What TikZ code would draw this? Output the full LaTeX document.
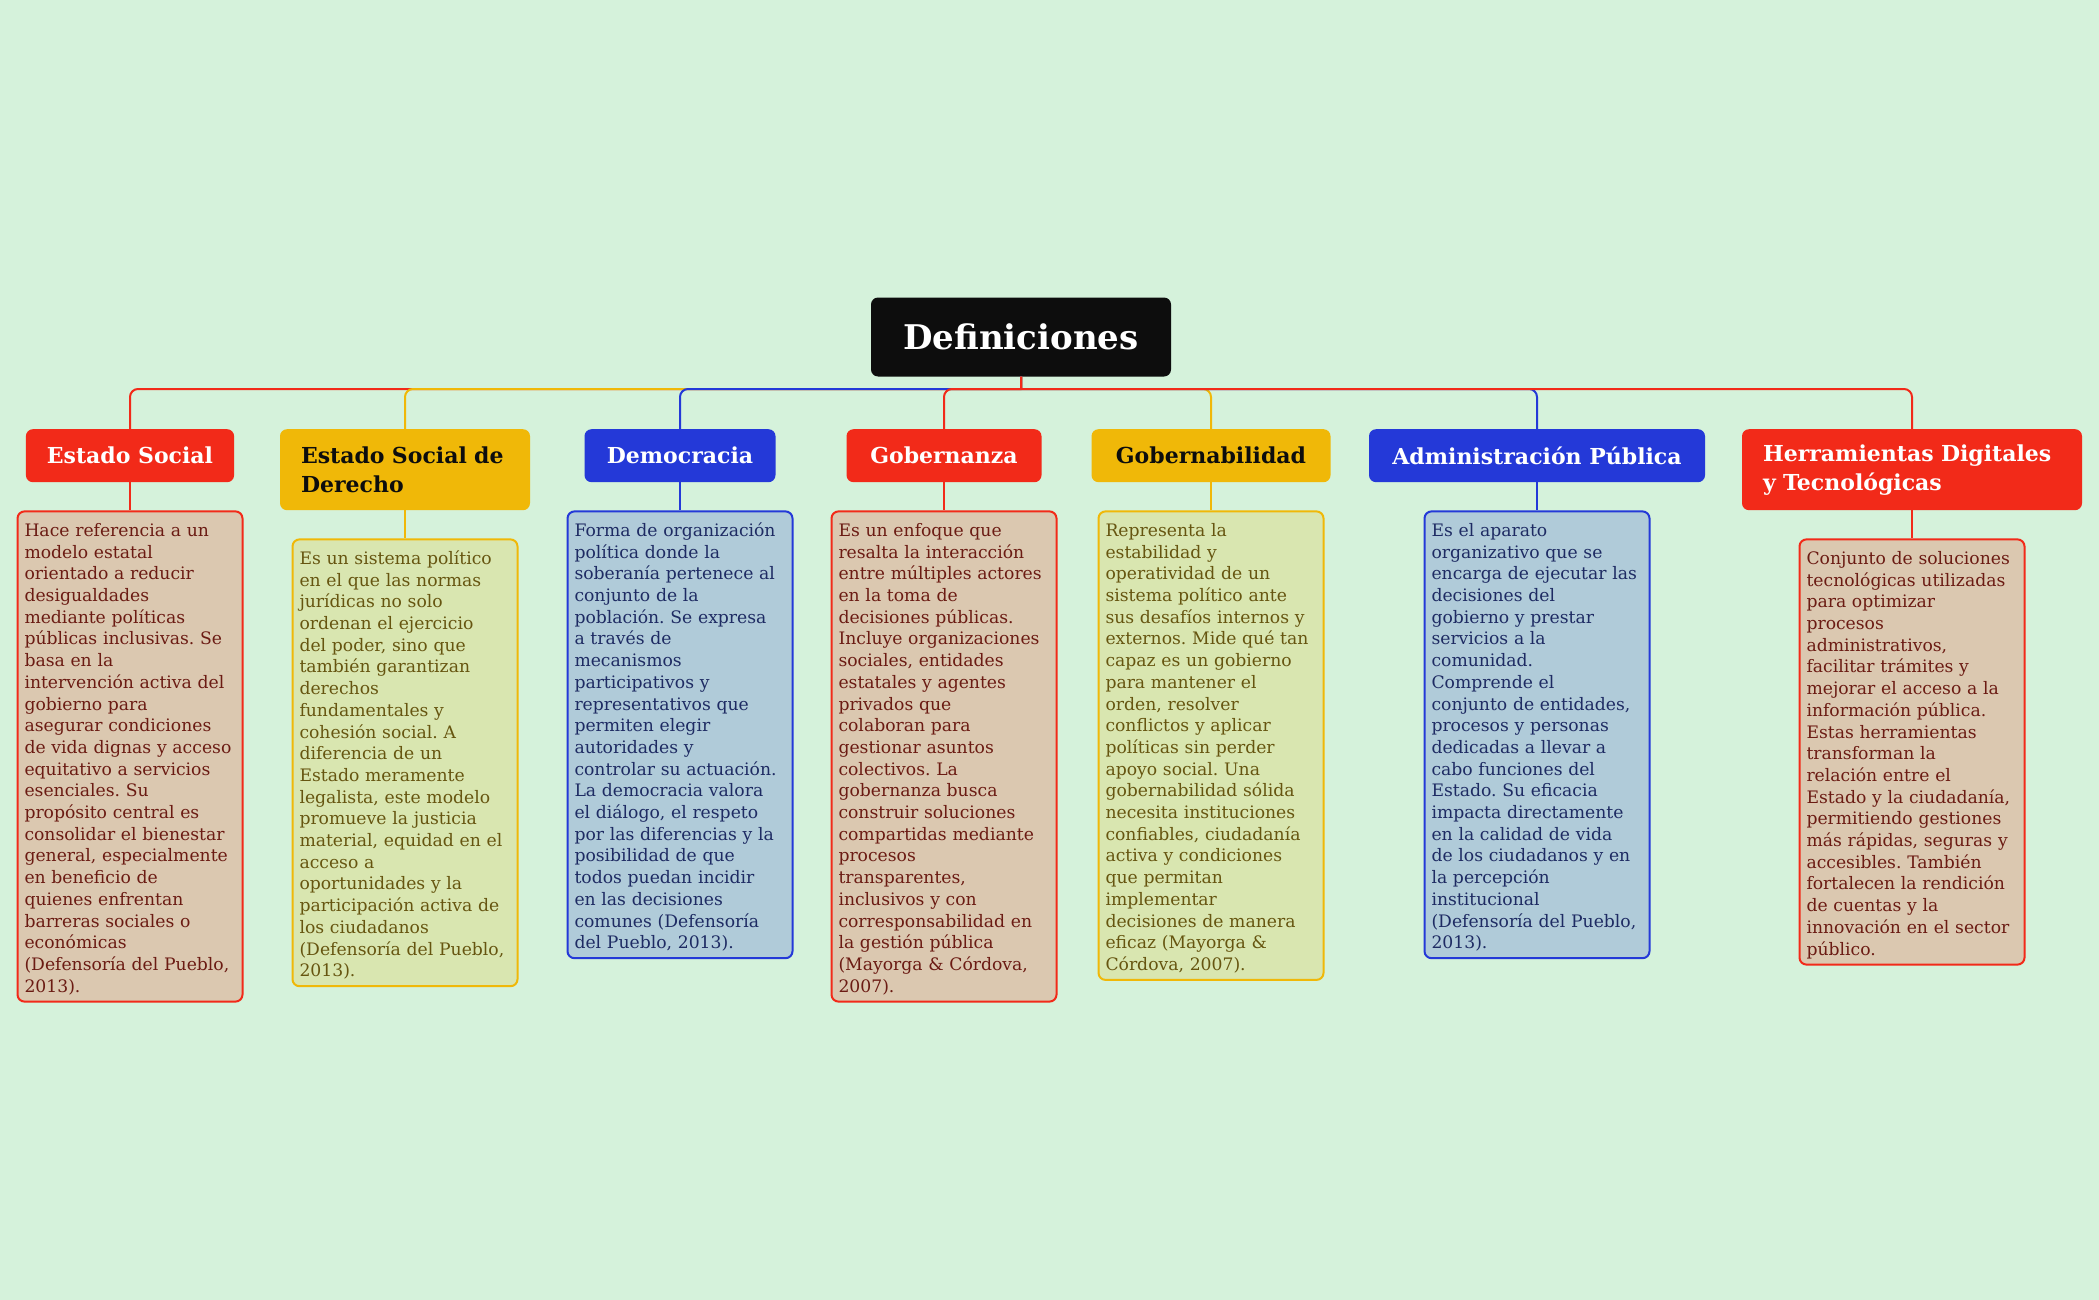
\documentclass[tikz,border=0pt]{standalone}
\usepackage{fontspec}
\setmainfont{DejaVu Serif}
\usetikzlibrary{positioning}
\frenchspacing

\definecolor{fondo}{HTML}{D5F2DB}
\definecolor{negro}{HTML}{0D0D0D}
\definecolor{rojo}{HTML}{F22A19}
\definecolor{amarillo}{HTML}{F0B808}
\definecolor{azul}{HTML}{2439D8}
\definecolor{rojoclaro}{HTML}{DBC8B0}
\definecolor{amarilloclaro}{HTML}{D9E6B0}
\definecolor{azulclaro}{HTML}{B0CBD9}
\definecolor{rojotexto}{HTML}{6B1B13}
\definecolor{amarillotexto}{HTML}{665510}
\definecolor{azultexto}{HTML}{1E2B63}

\begin{document}
\begin{tikzpicture}[x=1pt,y=-1pt,
        central/.style={fill=negro, text=white, rounded corners=7pt, minimum width=300pt,
            minimum height=79pt, font=\bfseries\fontsize{34}{40}\selectfont},
        rama/.style={rounded corners=7pt, anchor=north, inner xsep=21pt, inner ysep=0pt,
            minimum height=53pt, align=center, font=\bfseries\fontsize{22}{29}\selectfont},
        rama doble/.style={rama, minimum height=81pt, align=left},
        texto/.style={draw, line width=2pt, rounded corners=7pt, text width=211pt,
            inner xsep=7pt, inner ysep=6pt, align=left, below=28pt of #1,
            font=\fontsize{17.2}{21.7}\selectfont,
            execute at begin node={\rule{0pt}{19pt}},
            execute at end node={\rule[-3.5pt]{0pt}{0pt}}},
        conector/.style={line width=2pt}]
        \useasboundingbox (0,0) rectangle (2099,1300);
        \fill[fondo] (0,0) rectangle (2099,1300);

        \node[central] (raiz) at (1021,337) {Definiciones};
        \coordinate (bus) at (1021,389);

        \node[rama, fill=rojo, text=white, minimum width=206pt] (es) at (130,429) {Estado Social};
        \node[rama doble, fill=amarillo, text=negro, text width=208pt] (esd) at (405,429) {Estado Social de\\Derecho};
        \node[rama, fill=azul, text=white, minimum width=191pt] (dem) at (680,429) {Democracia};
        \node[rama, fill=rojo, text=white, minimum width=195pt] (gza) at (944,429) {Gobernanza};
        \node[rama, fill=amarillo, text=negro, minimum width=239pt] (gbd) at (1211,429) {Gobernabilidad};
        \node[rama, fill=azul, text=white, minimum width=336pt] (adm) at (1537,429) {Administración Pública};
        \node[rama doble, fill=rojo, text=white, text width=298pt] (her) at (1912,429) {Herramientas Digitales\\y Tecnológicas};

        \node[texto=es, draw=rojo, fill=rojoclaro, text=rojotexto] (es-t) {Hace referencia a un\\
            modelo estatal\\orientado a reducir\\desigualdades\\mediante políticas\\
            públicas inclusivas. Se\\basa en la\\intervención activa del\\gobierno para\\
            asegurar condiciones\\de vida dignas y acceso\\equitativo a servicios\\
            esenciales. Su\\propósito central es\\consolidar el bienestar\\
            general, especialmente\\en beneficio de\\quienes enfrentan\\
            barreras sociales o\\económicas\\(Defensoría del Pueblo,\\2013).};
        \node[texto=esd, draw=amarillo, fill=amarilloclaro, text=amarillotexto] (esd-t) {Es un sistema político\\
            en el que las normas\\jurídicas no solo\\ordenan el ejercicio\\del poder, sino que\\
            también garantizan\\derechos\\fundamentales y\\cohesión social. A\\
            diferencia de un\\Estado meramente\\legalista, este modelo\\promueve la justicia\\
            material, equidad en el\\acceso a\\oportunidades y la\\participación activa de\\
            los ciudadanos\\(Defensoría del Pueblo,\\2013).};
        \node[texto=dem, draw=azul, fill=azulclaro, text=azultexto] (dem-t) {Forma de organización\\
            política donde la\\soberanía pertenece al\\conjunto de la\\población. Se expresa\\
            a través de\\mecanismos\\participativos y\\representativos que\\permiten elegir\\
            autoridades y\\controlar su actuación.\\La democracia valora\\el diálogo, el respeto\\
            por las diferencias y la\\posibilidad de que\\todos puedan incidir\\
            en las decisiones\\comunes (Defensoría\\del Pueblo, 2013).};
        \node[texto=gza, draw=rojo, fill=rojoclaro, text=rojotexto] (gza-t) {Es un enfoque que\\
            resalta la interacción\\entre múltiples actores\\en la toma de\\decisiones públicas.\\
            Incluye organizaciones\\sociales, entidades\\estatales y agentes\\privados que\\
            colaboran para\\gestionar asuntos\\colectivos. La\\gobernanza busca\\
            construir soluciones\\compartidas mediante\\procesos\\transparentes,\\
            inclusivos y con\\corresponsabilidad en\\la gestión pública\\
            (Mayorga \& Córdova,\\2007).};
        \node[texto=gbd, draw=amarillo, fill=amarilloclaro, text=amarillotexto] (gbd-t) {Representa la\\
            estabilidad y\\operatividad de un\\sistema político ante\\sus desafíos internos y\\
            externos. Mide qué tan\\capaz es un gobierno\\para mantener el\\orden, resolver\\
            conflictos y aplicar\\políticas sin perder\\apoyo social. Una\\
            gobernabilidad sólida\\necesita instituciones\\confiables, ciudadanía\\
            activa y condiciones\\que permitan\\implementar\\decisiones de manera\\
            eficaz (Mayorga \&\\Córdova, 2007).};
        \node[texto=adm, draw=azul, fill=azulclaro, text=azultexto] (adm-t) {Es el aparato\\
            organizativo que se\\encarga de ejecutar las\\decisiones del\\gobierno y prestar\\
            servicios a la\\comunidad.\\Comprende el\\conjunto de entidades,\\
            procesos y personas\\dedicadas a llevar a\\cabo funciones del\\Estado. Su eficacia\\
            impacta directamente\\en la calidad de vida\\de los ciudadanos y en\\la percepción\\
            institucional\\(Defensoría del Pueblo,\\2013).};
        \node[texto=her, draw=rojo, fill=rojoclaro, text=rojotexto] (her-t) {Conjunto de soluciones\\
            tecnológicas utilizadas\\para optimizar\\procesos\\administrativos,\\
            facilitar trámites y\\mejorar el acceso a la\\información pública.\\
            Estas herramientas\\transforman la\\relación entre el\\Estado y la ciudadanía,\\
            permitiendo gestiones\\más rápidas, seguras y\\accesibles. También\\
            fortalecen la rendición\\de cuentas y la\\innovación en el sector\\público.};

        \foreach \r/\c in {es/rojo, esd/amarillo, dem/azul, gza/rojo, gbd/amarillo, adm/azul, her/rojo} {
            \draw[conector, \c] (raiz.south) -- (bus) (bus) [rounded corners=8pt] -| (\r.north);
            \draw[conector, \c] (\r.south) -- (\r-t.north);
        }
\end{tikzpicture}
\end{document}
